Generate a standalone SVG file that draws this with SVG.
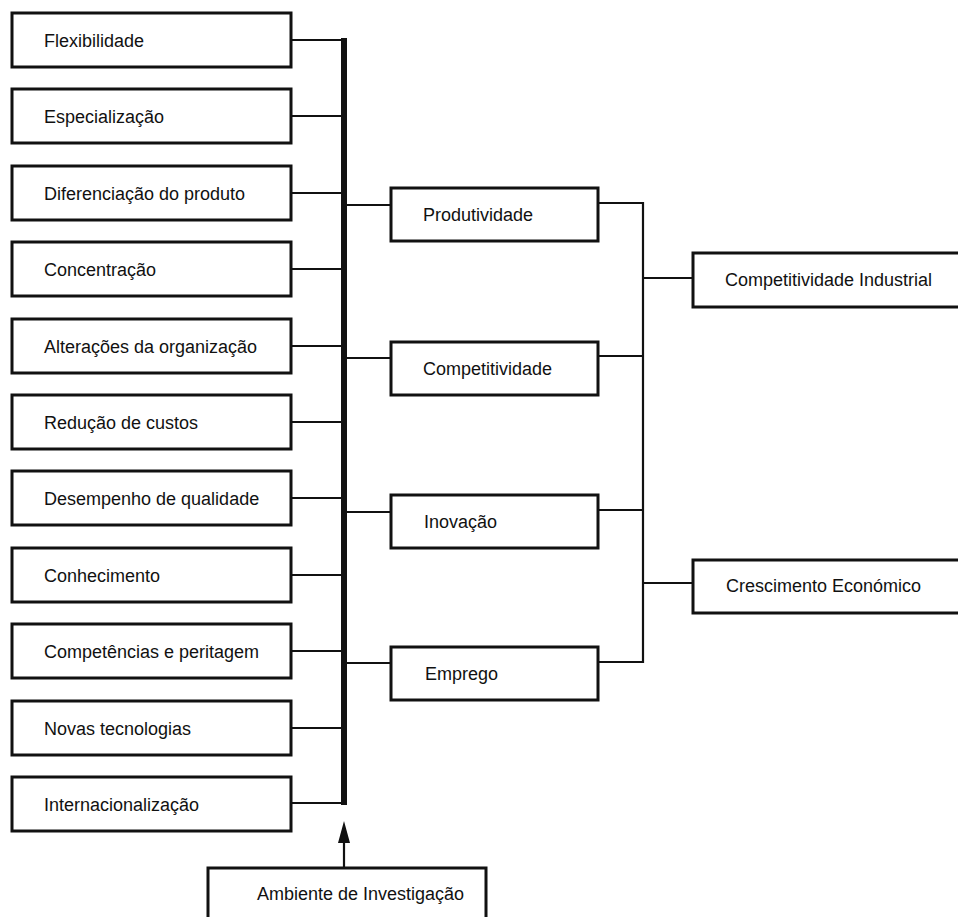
<svg xmlns="http://www.w3.org/2000/svg" width="958" height="917" viewBox="0 0 958 917">
  <style>
    .box { fill: #ffffff; stroke: #111111; stroke-width: 3; }
    .lbl { font-family: "Liberation Sans", Arial, sans-serif; font-size: 18px; fill: #111111; }
    .wire { stroke: #111111; stroke-width: 2.2; fill: none; }
  </style>
  <defs>
    <marker id="arrowHead" viewBox="0 0 12 20" refX="6" refY="0" markerWidth="12" markerHeight="20" markerUnits="userSpaceOnUse" orient="auto-start-reverse">
      <path d="M0,20 L6,0 L12,20 Z" fill="#111111"/>
    </marker>
  </defs>
  <rect width="958" height="917" fill="#ffffff"/>

  <!-- connectors -->
  <g id="connectors">
    <!-- factor boxes to the bus -->
    <path class="wire" d="M291,40 H343 M291,116 H343 M291,193 H343 M291,269 H343 M291,346 H343 M291,422 H343 M291,498 H343 M291,575 H343 M291,651 H343 M291,728 H343 M291,803 H343"/>
    <!-- main bus -->
    <rect x="341" y="38" width="6" height="767" fill="#111111"/>
    <!-- bus to outcome boxes -->
    <path class="wire" d="M347,205 H391 M347,358 H391 M347,512 H391 M347,663 H391"/>
    <!-- outcome boxes to the right collector -->
    <path class="wire" d="M598,203 H643 V662 H598 M598,356 H643 M598,510 H643"/>
    <!-- collector to result boxes -->
    <path class="wire" d="M643,278 H693 M643,583 H693"/>
    <!-- research environment feeding the bus -->
    <line x1="344" y1="868" x2="344" y2="840" stroke="#111111" stroke-width="2.2"/>
    <polygon points="344,821 338,843 350,843" fill="#111111"/>
  </g>

  <!-- factor boxes -->
  <g id="n-flexibilidade"><rect class="box" x="12" y="13" width="279" height="54"/><text class="lbl" x="44" y="47">Flexibilidade</text></g>
  <g id="n-especializacao"><rect class="box" x="12" y="89" width="279" height="54"/><text class="lbl" x="44" y="123">Especialização</text></g>
  <g id="n-diferenciacao"><rect class="box" x="12" y="166" width="279" height="54"/><text class="lbl" x="44" y="200">Diferenciação do produto</text></g>
  <g id="n-concentracao"><rect class="box" x="12" y="242" width="279" height="54"/><text class="lbl" x="44" y="276">Concentração</text></g>
  <g id="n-alteracoes"><rect class="box" x="12" y="319" width="279" height="54"/><text class="lbl" x="44" y="353">Alterações da organização</text></g>
  <g id="n-reducao"><rect class="box" x="12" y="395" width="279" height="54"/><text class="lbl" x="44" y="429">Redução de custos</text></g>
  <g id="n-desempenho"><rect class="box" x="12" y="471" width="279" height="54"/><text class="lbl" x="44" y="505">Desempenho de qualidade</text></g>
  <g id="n-conhecimento"><rect class="box" x="12" y="548" width="279" height="54"/><text class="lbl" x="44" y="582">Conhecimento</text></g>
  <g id="n-competencias"><rect class="box" x="12" y="624" width="279" height="54"/><text class="lbl" x="44" y="658">Competências e peritagem</text></g>
  <g id="n-novas"><rect class="box" x="12" y="701" width="279" height="54"/><text class="lbl" x="44" y="735">Novas tecnologias</text></g>
  <g id="n-internacionalizacao"><rect class="box" x="12" y="777" width="279" height="54"/><text class="lbl" x="44" y="811">Internacionalização</text></g>

  <!-- outcome boxes -->
  <g id="n-produtividade"><rect class="box" x="391" y="188" width="207" height="53"/><text class="lbl" x="423" y="221">Produtividade</text></g>
  <g id="n-competitividade"><rect class="box" x="391" y="342" width="207" height="53"/><text class="lbl" x="423" y="375">Competitividade</text></g>
  <g id="n-inovacao"><rect class="box" x="391" y="495" width="207" height="53"/><text class="lbl" x="424" y="528">Inovação</text></g>
  <g id="n-emprego"><rect class="box" x="391" y="647" width="207" height="53"/><text class="lbl" x="425" y="680">Emprego</text></g>

  <!-- result boxes -->
  <g id="n-competitividade-industrial"><rect class="box" x="693" y="253" width="280" height="54"/><text class="lbl" x="725" y="286">Competitividade Industrial</text></g>
  <g id="n-crescimento"><rect class="box" x="693" y="560" width="280" height="53"/><text class="lbl" x="726" y="592">Crescimento Económico</text></g>

  <!-- research environment -->
  <g id="n-ambiente"><rect class="box" x="208" y="868" width="278" height="70"/><text class="lbl" x="257" y="900">Ambiente de Investigação</text></g>
</svg>
